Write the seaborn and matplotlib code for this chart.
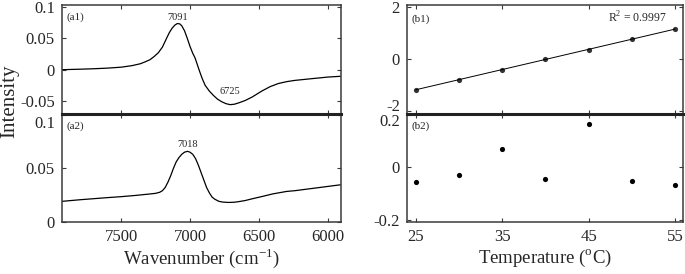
import numpy as np
import pandas as pd
import seaborn as sns
import matplotlib.pyplot as plt
from matplotlib.transforms import ScaledTranslation

# (a1) difference spectrum
wn_a1 = [7930, 7800, 7700, 7600, 7500, 7420, 7360, 7320, 7290, 7260, 7230, 7200,
         7170, 7150, 7130, 7110, 7092, 7075, 7060, 7040, 7020, 7000, 6980, 6964,
         6950, 6930, 6910, 6890, 6860, 6830, 6800, 6770, 6740, 6710, 6680, 6650,
         6600, 6550, 6480, 6420, 6360, 6300, 6240, 6120, 6000, 5910]
int_a1 = [0.0, 0.0008, 0.0015, 0.0025, 0.004, 0.0065, 0.0095, 0.013, 0.016, 0.021, 0.027, 0.036,
          0.050, 0.059, 0.066, 0.071, 0.0735, 0.073, 0.070, 0.062, 0.050, 0.037, 0.026, 0.019,
          0.010, -0.003, -0.015, -0.025, -0.034, -0.041, -0.047, -0.051, -0.054, -0.0556, -0.055, -0.053,
          -0.049, -0.0435, -0.034, -0.027, -0.022, -0.019, -0.017, -0.0143, -0.0117, -0.0105]

# (a2) spectrum
wn_a2 = [7930, 7800, 7700, 7600, 7500, 7400, 7300, 7250, 7220, 7200, 7180, 7160,
         7140, 7120, 7100, 7080, 7060, 7040, 7018, 7000, 6980, 6960, 6940, 6920,
         6900, 6880, 6860, 6840, 6820, 6790, 6760, 6720, 6680, 6650, 6600, 6550,
         6480, 6400, 6300, 6240, 6120, 6000, 5910]
int_a2 = [0.019, 0.0205, 0.0215, 0.0225, 0.0234, 0.0245, 0.0258, 0.0265, 0.0275, 0.029, 0.032, 0.037,
          0.043, 0.050, 0.056, 0.060, 0.063, 0.065, 0.0658, 0.065, 0.063, 0.059, 0.053, 0.046,
          0.039, 0.032, 0.027, 0.023, 0.021, 0.019, 0.0183, 0.018, 0.0182, 0.0187, 0.0198, 0.0214,
          0.0235, 0.026, 0.0283, 0.029, 0.031, 0.033, 0.0345]

temps = [25, 30, 35, 40, 45, 50, 55]
b1_vals = [-1.19, -0.79, -0.41, 0.0, 0.36, 0.76, 1.15]
b2_vals = [-0.055, -0.030, 0.069, -0.044, 0.164, -0.053, -0.068]

wn_ticks = [7500, 7000, 6500, 6000]
a1_ticks = [-0.05, 0, 0.05, 0.1]
a1_labels = ['-0.05', '0', '0.05', '0.1']
a2_ticks = [0, 0.05, 0.1]
a2_labels = ['0', '0.05', '0.1']
t_ticks = [25, 35, 45, 55]
b1_ticks = [-2, 0, 2]
b1_labels = ['-2', '0', '2']
b2_ticks = [-0.2, 0, 0.2]
b2_labels = ['-0.2', '0', '0.2']

df_a1 = pd.DataFrame({'wn': wn_a1, 'I': int_a1})
df_a2 = pd.DataFrame({'wn': wn_a2, 'I': int_a2})
df_b = pd.DataFrame({'T': temps, 'b1': b1_vals, 'b2': b2_vals})

sns.set_style('ticks')
plt.rcParams['font.family'] = ['Liberation Serif', 'DejaVu Serif']
plt.rcParams['mathtext.fontset'] = 'custom'
plt.rcParams['mathtext.rm'] = 'Liberation Serif'
plt.rcParams['axes.unicode_minus'] = False

W, H = 685, 274
fig = plt.figure(figsize=(W / 100, H / 100), dpi=100)


def box(x0, x1, y0, y1):
    return [x0 / W, 1 - y1 / H, (x1 - x0) / W, (y1 - y0) / H]


def nudge(ax, idx, dy_px):
    # shift one y tick label vertically, like the reference does at the panel joins
    lab = ax.yaxis.get_major_ticks()[idx].label1
    lab.set_transform(lab.get_transform() + ScaledTranslation(0, dy_px / 100, fig.dpi_scale_trans))


ax_a1 = fig.add_axes(box(61.7, 340.7, 5, 114))
ax_a2 = fig.add_axes(box(61.7, 340.7, 114, 221.7))
ax_b1 = fig.add_axes(box(406.7, 683.3, 5, 114))
ax_b2 = fig.add_axes(box(406.7, 683.3, 114, 221.7))

for ax in [ax_a1, ax_a2, ax_b1, ax_b2]:
    for s in ax.spines.values():
        s.set_color('#3a3a3a')
        s.set_linewidth(1.1)
    ax.tick_params(direction='in', top=True, right=True, length=3, width=0.8,
                   color='#3a3a3a', labelsize=12)
    ax.tick_params(axis='y', pad=5)
    ax.tick_params(axis='x', pad=5)
for ax in [ax_a2, ax_b2]:
    ax.spines['top'].set_linewidth(2.2)
    ax.spines['top'].set_color('#222222')

# spectra
sns.lineplot(data=df_a1, x='wn', y='I', ax=ax_a1, color='k', lw=0.9)
sns.lineplot(data=df_a2, x='wn', y='I', ax=ax_a2, color='k', lw=0.9)
for ax in [ax_a1, ax_a2]:
    ax.set_xlim(7930, 5908)
    ax.set_xticks(wn_ticks)
    ax.set_xlabel('')
    ax.set_ylabel('')
ax_a1.set_xticklabels([])
ax_a2.set_xticklabels([str(t) for t in wn_ticks])
ax_a1.set_ylim(-0.0705, 0.103)
ax_a1.set_yticks(a1_ticks, a1_labels)
ax_a2.set_ylim(0, 0.1007)
ax_a2.set_yticks(a2_ticks, a2_labels)

ax_a1.annotate('7091', xy=(7091, max(int_a1)), xytext=(0, 1), textcoords='offset points',
               ha='center', va='bottom', fontsize=7.5)
ax_a1.annotate('6725', xy=(6710, min(int_a1)), xytext=(0, 6), textcoords='offset points',
               ha='center', va='bottom', fontsize=7.5)
ax_a2.annotate('7018', xy=(7018, max(int_a2)), xytext=(0, 2), textcoords='offset points',
               ha='center', va='bottom', fontsize=7.5)

# temperature panels
sns.regplot(data=df_b, x='T', y='b1', ax=ax_b1, ci=None, color='k',
            scatter_kws={'s': 14, 'linewidths': 0}, line_kws={'lw': 0.7})
sns.scatterplot(data=df_b, x='T', y='b2', ax=ax_b2, color='k', s=14, linewidth=0)
for ax in [ax_b1, ax_b2]:
    ax.set_xlim(23.96, 55.96)
    ax.set_xticks(t_ticks)
    ax.set_xlabel('')
    ax.set_ylabel('')
ax_b1.set_xticklabels([])
ax_b2.set_xticklabels([str(t) for t in t_ticks])
ax_b1.set_ylim(-2.115, 2.077)
ax_b1.set_yticks(b1_ticks, b1_labels)
ax_b2.set_ylim(-0.2065, 0.202)
ax_b2.set_yticks(b2_ticks, b2_labels)

nudge(ax_a2, 2, -7)
nudge(ax_b2, 2, -5)
nudge(ax_b1, 0, 6)

ax_b1.text(0.94, 0.88, 'R$^2$ = 0.9997', transform=ax_b1.transAxes, ha='right',
           va='center', fontsize=8.5)

# panel tags
ax_a1.text(0.018, 0.89, '(a1)', transform=ax_a1.transAxes, ha='left', va='center', fontsize=8)
ax_a2.text(0.018, 0.89, '(a2)', transform=ax_a2.transAxes, ha='left', va='center', fontsize=8)
ax_b1.text(0.018, 0.87, '(b1)', transform=ax_b1.transAxes, ha='left', va='center', fontsize=8)
ax_b2.text(0.018, 0.89, '(b2)', transform=ax_b2.transAxes, ha='left', va='center', fontsize=8)

fig.text(10 / W, 1 - 101 / H, 'Intensity', rotation=90, ha='center', va='center', fontsize=15)
fig.text(201 / W, 1 - 258 / H, 'Wavenumber (cm$^{-1}$)', ha='center', va='center', fontsize=13.5)
fig.text(545 / W, 1 - 258 / H, 'Temperature ($^{\\mathrm{o}}$C)', ha='center', va='center', fontsize=13.5)

fig.savefig('out.png', dpi=100)
